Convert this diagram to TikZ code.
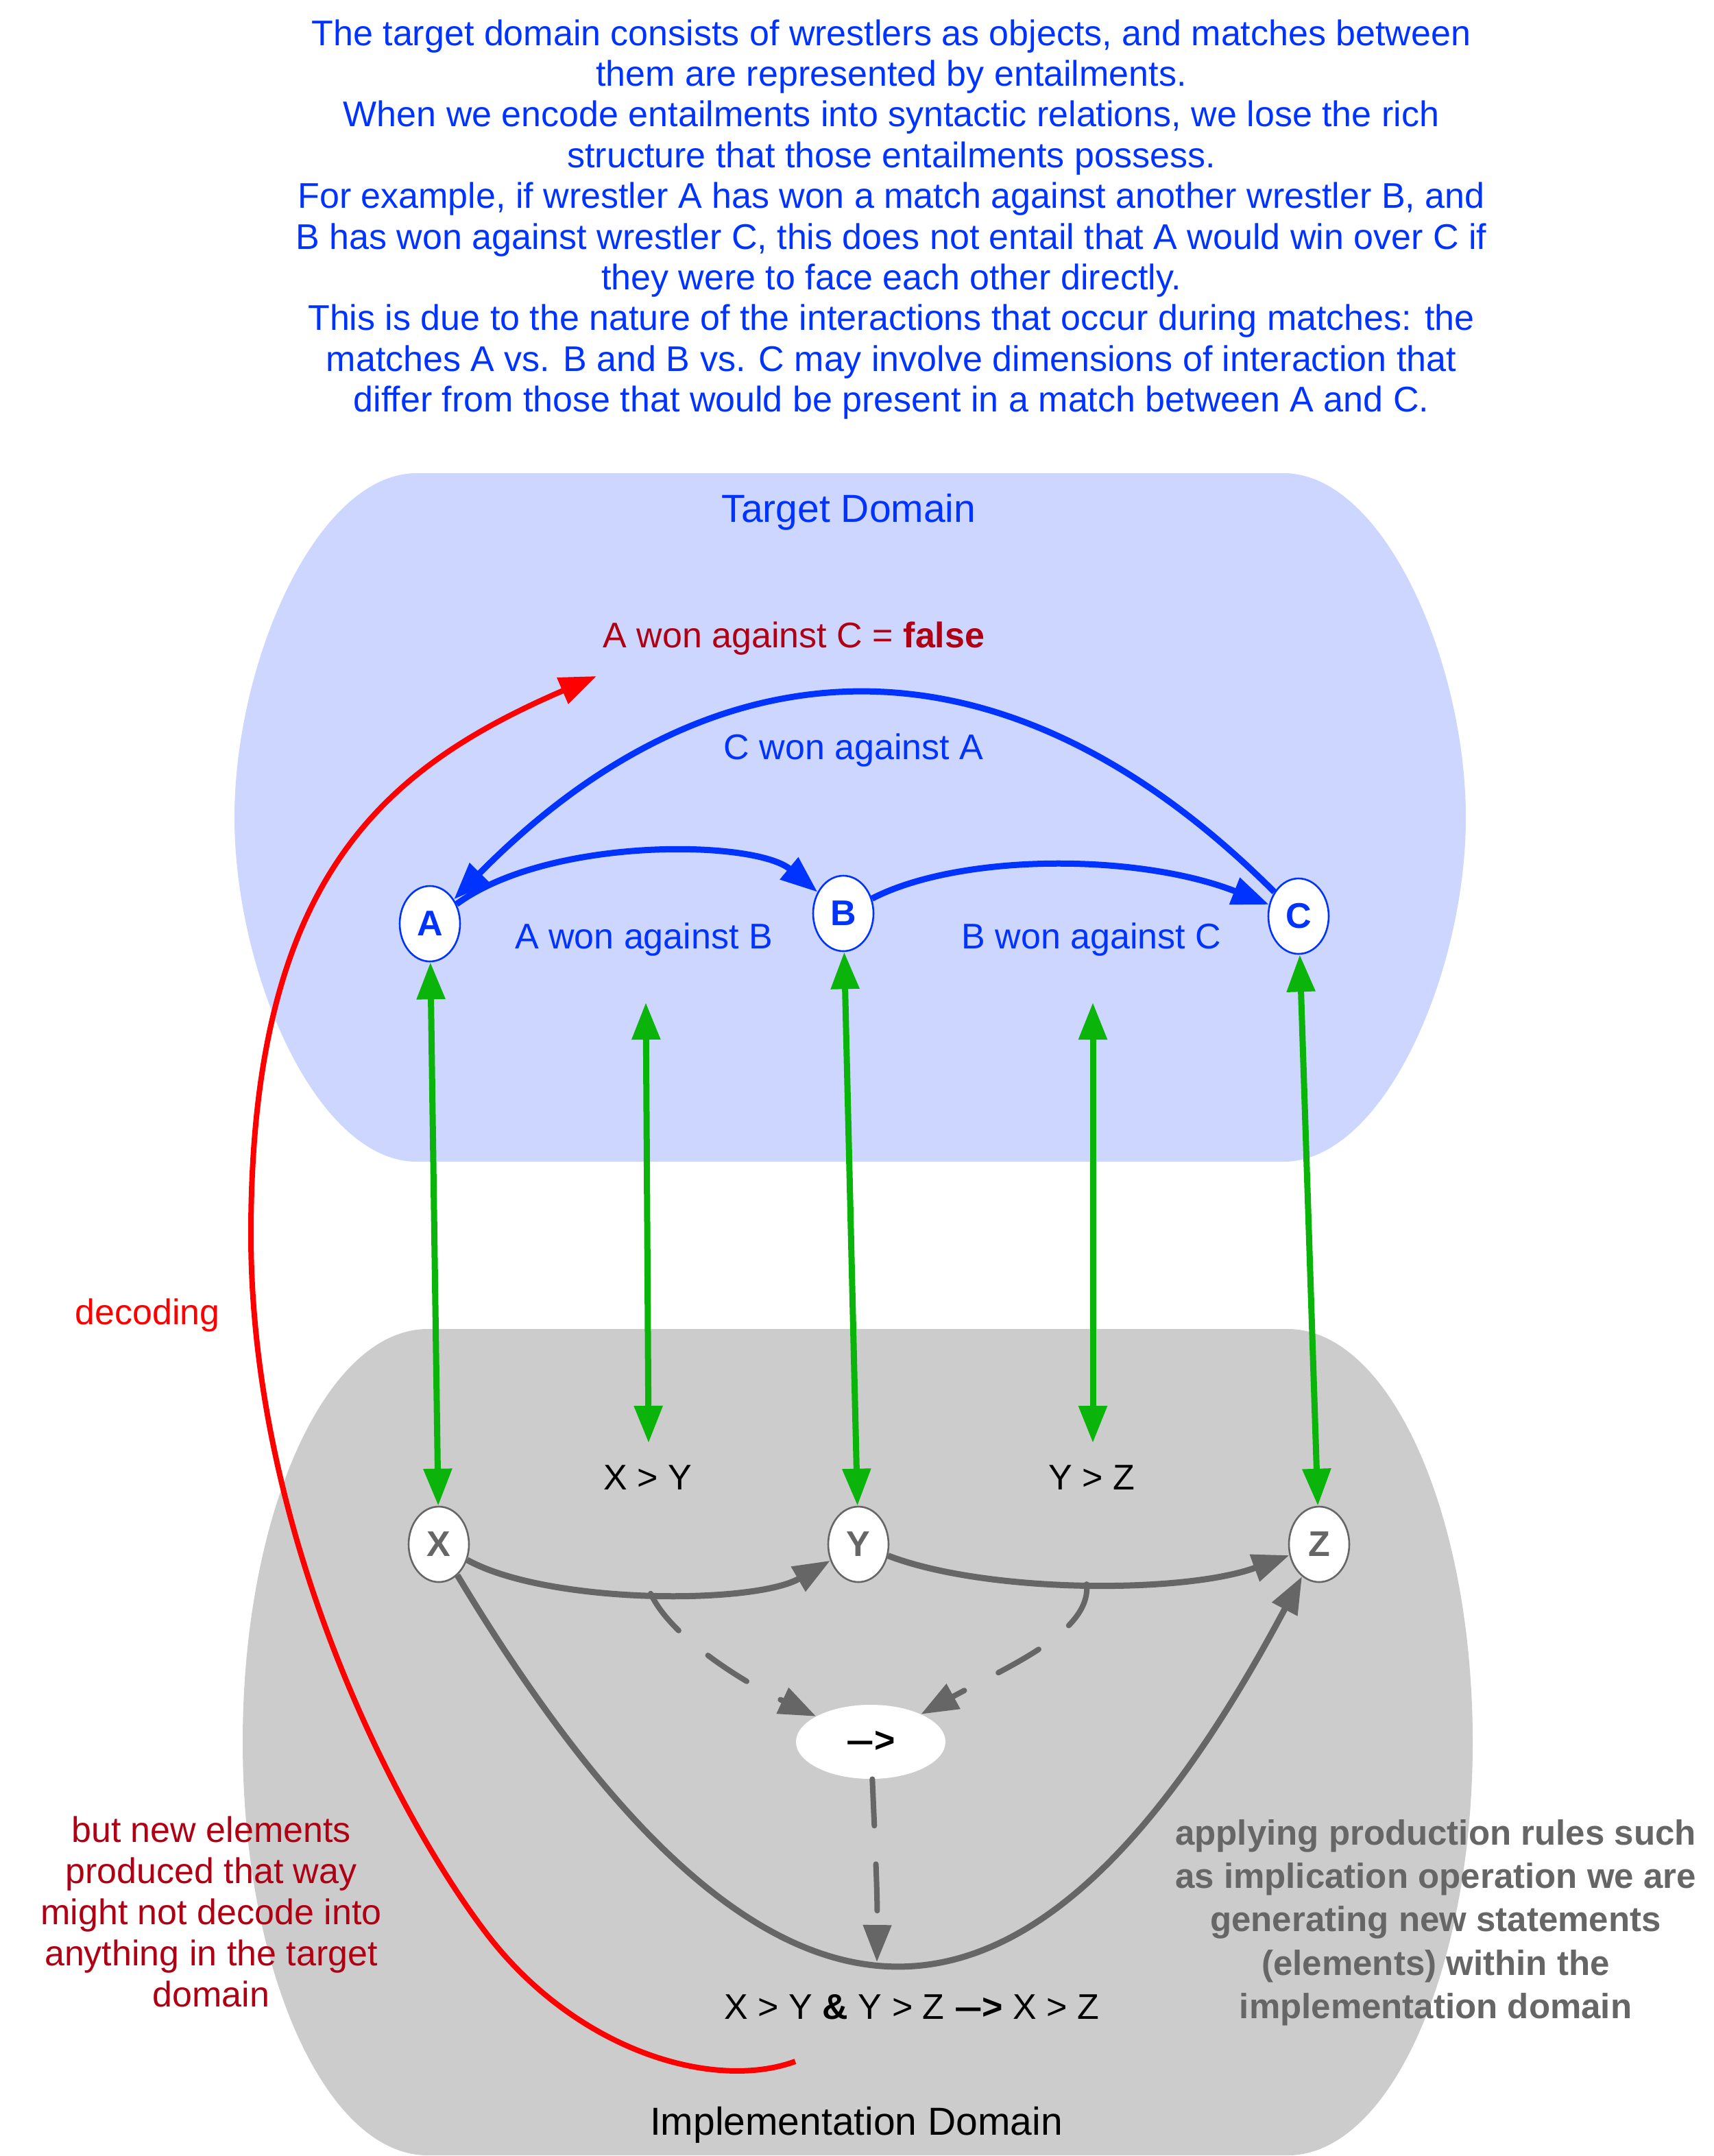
\documentclass[tikz,border=0pt]{standalone}
\usepackage{fontspec}
\setmainfont{Liberation Sans}
\usetikzlibrary{arrows.meta,shapes.geometric}
\definecolor{tdblue}{RGB}{0,51,255}
\definecolor{tdfill}{RGB}{204,214,255}
\definecolor{idfill}{RGB}{204,204,204}
\definecolor{edgegray}{RGB}{102,102,102}
\definecolor{mapgreen}{RGB}{10,180,10}
\definecolor{decred}{RGB}{255,0,0}
\definecolor{darkred}{RGB}{176,0,20}
\newcommand{\longdash}{\scalebox{1.4}[1]{–}}
\begin{document}
\begin{tikzpicture}[x=1pt,y=-1pt,
  every node/.style={font=\fontsize{26}{29.7}\selectfont, inner sep=0pt},
  >={Triangle[length=27pt,width=20pt]},
  wnode/.style={ellipse, minimum width=44pt, minimum height=55pt, fill=white,
    line width=1.3pt, font=\bfseries\fontsize{26}{30}\selectfont},
  tnode/.style={wnode, draw=tdblue, text=tdblue},
  inode/.style={wnode, draw=edgegray, text=edgegray},
  blueedge/.style={draw=tdblue, line width=4.5pt, ->},
  mapedge/.style={draw=mapgreen, line width=4.5pt, <->},
  grayedge/.style={draw=edgegray, line width=4.5pt, ->},
  dashedge/.style={draw=edgegray, line width=4pt, ->, dash pattern=on 34pt off 28pt, line cap=round},
  redge/.style={draw=decred, line width=4pt, ->},
  lbl/.style={anchor=base}
]
\useasboundingbox (0,0) rectangle (1250,1572);

% clusters
\fill[tdfill] (304,345) -- (936,345)
  .. controls (1009.5,345) and (1069,483.6) .. (1069,596)
  .. controls (1069,708.4) and (1009.5,847) .. (936,847)
  -- (304,847)
  .. controls (230.5,847) and (171,708.4) .. (171,596)
  .. controls (171,483.6) and (230.5,345) .. (304,345) -- cycle;
\fill[idfill] (312,969) -- (939,969)
  .. controls (1013.6,969) and (1074,1103.8) .. (1074,1270)
  .. controls (1074,1436.2) and (1013.6,1571.5) .. (939,1571.5)
  -- (312,1571.5)
  .. controls (237.4,1571.5) and (177,1436.2) .. (177,1270)
  .. controls (177,1103.8) and (237.4,969) .. (312,969) -- cycle;

% texts (anchor=base is the baseline of the last line)
\node[lbl, tdblue, align=center] (intro) at (650,300.3) {The target domain consists of wrestlers as objects, and matches between\\them are represented by entailments.\\When we encode entailments into syntactic relations, we lose the rich\\structure that those entailments possess.\\For example, if wrestler A has won a match against another wrestler B, and\\B has won against wrestler C, this does not entail that A would win over C if\\they were to face each other directly.\\This is due to the nature of the interactions that occur during matches: the\\matches A vs. B and B vs. C may involve dimensions of interaction that\\differ from those that would be present in a match between A and C.};
\node[lbl, tdblue, font=\fontsize{28.5}{34}\selectfont] (tdlabel) at (619,380.5) {Target Domain};
\node[lbl, black, font=\fontsize{28.5}{34}\selectfont] (idlabel) at (624.5,1556.5) {Implementation Domain};

\node[lbl, darkred] (labac) at (579,472.3) {A won against C = \textbf{false}};
\node[lbl, tdblue] (labca) at (622.5,553.5) {C won against A};
\node[lbl, tdblue] (labab) at (469.5,691.5) {A won against B};
\node[lbl, tdblue] (labbc) at (796,691.5) {B won against C};
\node[lbl, black] (labxy) at (472.5,1086) {X > Y};
\node[lbl, black] (labyz) at (796,1086) {Y > Z};
\node[lbl, black] (labxz) at (665,1472) {X > Y \textbf{\&} Y > Z \textbf{\longdash>} X > Z};
\node[lbl, decred] (dec) at (107.5,965.5) {decoding};
\node[lbl, darkred, align=center, font=\fontsize{26}{30}\selectfont] (lost) at (154,1463) {but new elements\\produced that way\\might not decode into\\anything in the target\\domain};
\node[lbl, edgegray, align=center, font=\bfseries\fontsize{25.5}{31.7}\selectfont] (prod) at (1047,1471.8) {applying production rules such\\as implication operation we are\\generating new statements\\(elements) within the\\implementation domain};

% nodes
\node[tnode] (A) at (313.5,673.5) {A};
\node[tnode] (B) at (615,666) {B};
\node[tnode] (C) at (947,668) {C};
\node[inode] (X) at (320,1126) {X};
\node[inode] (Y) at (626,1126) {Y};
\node[inode] (Z) at (962,1126) {Z};
\node[ellipse, fill=white, minimum width=109pt, minimum height=54pt,
  font=\bfseries\fontsize{26}{30}\selectfont] (imp) at (635,1270) {\longdash>};

% target domain edges
\draw[blueedge] (A) .. controls (400,610) and (550,612) .. (B);
\draw[blueedge] (B) .. controls (700,622) and (830,622) .. (C);
\draw[blueedge] (C) .. controls (735,456) and (525,459) .. (A);

% mapping edges
\coordinate (abm) at (471,731);
\coordinate (xym) at (473,1052);
\coordinate (bcm) at (797,731);
\coordinate (yzm) at (797,1052);
\draw[mapedge] (A) -- (X);
\draw[mapedge] (B) -- (Y);
\draw[mapedge] (C) -- (Z);
\draw[mapedge] (abm) -- (xym);
\draw[mapedge] (bcm) -- (yzm);

% implementation edges
\draw[grayedge] (X) .. controls (400,1170) and (550,1170) .. (Y) coordinate[pos=0.5] (xyc);
\draw[grayedge] (Y) .. controls (720,1162) and (864,1162) .. (Z) coordinate[pos=0.5] (yzc);
\draw[grayedge] (X) .. controls (560,1525) and (750,1525) .. (Z) coordinate[pos=0.48] (xzc);
\draw[dashedge] (xyc) .. controls (490,1195) and (545,1228) .. (imp);
\draw[dashedge] (yzc) .. controls (796,1190) and (735,1215) .. (imp);
\draw[dashedge] (imp) .. controls (638,1340) and (640,1380) .. (xzc);

% decoding
\coordinate (decs) at (580,1503);
\coordinate (dece) at (435,493);
\draw[redge] (decs) .. controls (520,1525) and (420,1495) .. (355,1410)
  .. controls (290,1325) and (183,1120) .. (183,900)
  .. controls (183,640) and (280,560) .. (dece);
\end{tikzpicture}
\end{document}
